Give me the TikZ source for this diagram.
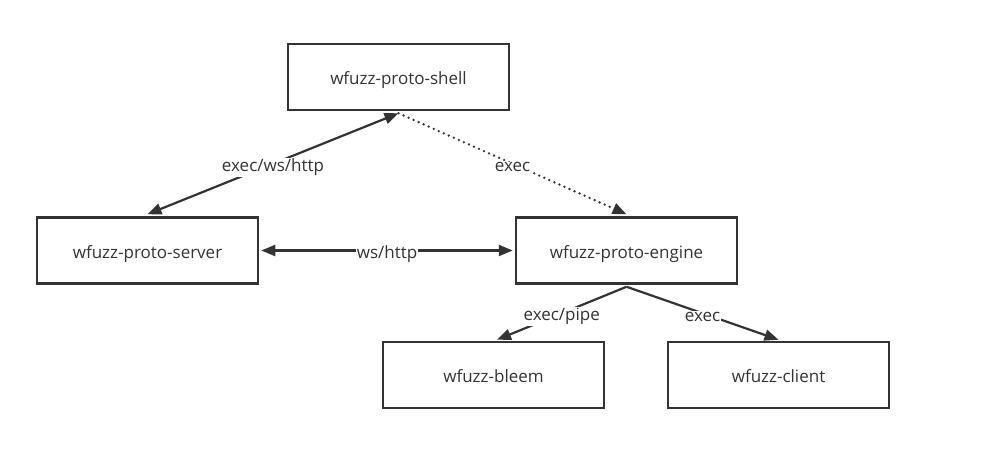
\documentclass[tikz,border=0pt]{standalone}
\usepackage{fontspec}
\setmainfont{Open Sans}
\usetikzlibrary{arrows.meta}
\definecolor{ink}{HTML}{333333}
\begin{document}
\begin{tikzpicture}[x=1pt,y=-1pt,
  box/.style={draw=ink,line width=2.5pt,minimum width=221pt,minimum height=66pt,inner sep=0pt,font=\fontsize{17}{20}\selectfont,text=ink,text height=18.5pt,text depth=3.5pt},
  tip/.style={-{Triangle[length=14pt,width=11pt]}},
  conn/.style={draw=ink,line width=2.2pt,tip},
  biconn/.style={draw=ink,line width=2.2pt,{Triangle[length=14pt,width=11pt]}-{Triangle[length=14pt,width=11pt]}},
  lbl/.style={fill=white,inner sep=1pt,yshift=-3.5pt,font=\fontsize{17}{20}\selectfont,text=ink}]
\useasboundingbox (0,0) rectangle (1001,471);
\node[box] (shell) at (398.5,77) {wfuzz-proto-shell};
\node[box] (server) at (147.5,250.5) {wfuzz-proto-server};
\node[box] (engine) at (626.5,250.5) {wfuzz-proto-engine};
\node[box] (bleem) at (493.5,375) {wfuzz-bleem};
\node[box] (client) at (778.5,375) {wfuzz-client};
\draw[biconn] ([yshift=-2pt]shell.south) -- node[lbl,pos=0.5] {exec/ws/http} ([yshift=2pt]server.north);
\draw[conn,line width=2.6pt,line cap=round,dash pattern=on 0pt off 5.5pt] ([yshift=-2pt]shell.south) -- node[lbl,pos=0.5] {exec} ([yshift=2pt]engine.north);
\draw[biconn] ([xshift=2pt]server.east) -- node[lbl,pos=0.5] {ws/http} ([xshift=-2pt]engine.west);
\draw[conn] ([yshift=-2pt]engine.south) -- node[lbl,pos=0.5] {exec/pipe} ([xshift=3.5pt,yshift=1pt]bleem.north);
\draw[conn] ([yshift=-2pt]engine.south) -- node[lbl,pos=0.5] {exec} ([yshift=1pt]client.north);
\end{tikzpicture}
\end{document}
